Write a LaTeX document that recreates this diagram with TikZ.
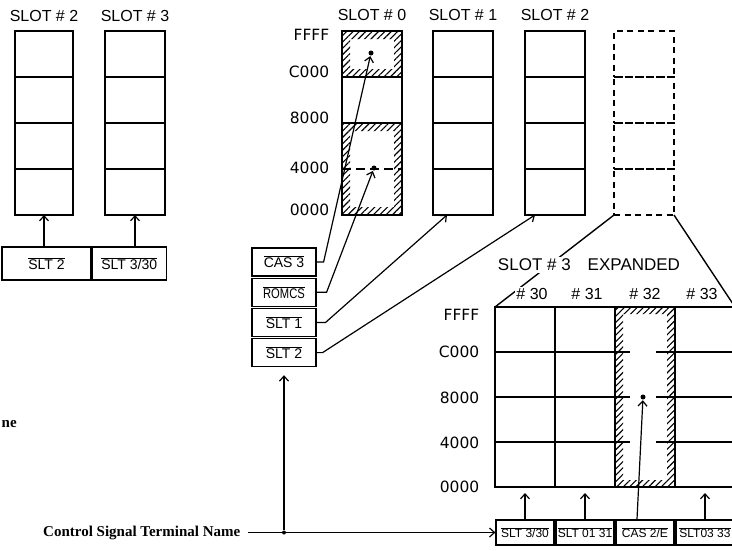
\documentclass[tikz,border=0pt]{standalone}
\usepackage{fontspec}
\setmainfont{Liberation Sans}
\newfontfamily\addrfont{DejaVu Sans}
\newfontfamily\notefont{Liberation Serif}
\usepackage{tikz}
\usetikzlibrary{arrows.meta, positioning, calc, patterns.meta}
\newcommand{\ovl}[1]{$\overline{\mbox{#1}}$}

\begin{document}
\begin{tikzpicture}[
    x=1pt, y=-1pt,
    >={Straight Barb[length=5pt, width=9pt]},
    line width=1.4pt,
    cell/.style={draw, minimum width=60pt, minimum height=46pt, inner sep=0pt, outer sep=0pt},
    dcell/.style={cell, dash pattern=on 6pt off 4.5pt},
    gcell/.style={cell, minimum height=45pt},
    sig/.style={draw, line width=1.2pt, minimum width=64pt, minimum height=28pt, inner sep=0pt, font=\fontsize{14}{16}\selectfont},
    bsig/.style={draw, line width=1.2pt, minimum width=58pt, minimum height=25pt, inner sep=0pt, font=\fontsize{12}{14}\selectfont},
    slotlbl/.style={font=\fontsize{16}{18}\selectfont, inner sep=1.5pt},
    addr/.style={font=\addrfont\fontsize{15.5}{17}\selectfont, anchor=east, inner sep=0pt},
    note/.style={font=\notefont\bfseries\fontsize{15}{17}\selectfont, inner sep=0pt},
    dot/.style={circle, fill, inner sep=0pt, minimum size=5pt},
    hatch/.style={pattern={Lines[angle=45, distance=4.5pt, line width=1.1pt]}, even odd rule},
    link/.style={->, line width=1.2pt},
]
\useasboundingbox (0,0) rectangle (732,550);
\clip (0,0) rectangle (732,550);

% previous slots (left part)
\foreach \i in {1,...,4} {
  \node[cell, minimum width=58pt] (a2-\i) at (44, 8+46*\i) {};
  \node[cell] (a3-\i) at (135, 8+46*\i) {};
}
\node[slotlbl] (la2) at (44,16) {SLOT \# 2};
\node[slotlbl] (la3) at (135,16) {SLOT \# 3};
\node[sig, minimum width=89pt, minimum height=33pt] (ls2) at (46.5,263.5) {\ovl{SLT 2}};
\node[sig, minimum width=74pt, minimum height=33pt, right=0pt of ls2] (ls3) {\ovl{SLT 3/30}};
\draw[link] (a2-4.south |- ls2.north) -- (a2-4.south);
\draw[link] (a3-4.south |- ls3.north) -- (a3-4.south);

% slot 0 with hatched areas
\node[cell] (s0-1) at (372,54) {};
\node[cell] (s0-2) at (372,100) {};
\node[cell, minimum height=92pt] (s0-lo) at (372,169) {};
\fill[hatch] (s0-1.north west) rectangle (s0-1.south east)
  ($(s0-1.north west)+(8,8)$) rectangle ($(s0-1.south east)+(-8,-8)$);
\fill[hatch] (s0-lo.north west) rectangle (s0-lo.south east)
  ($(s0-lo.north west)+(8,8)$) rectangle ($(s0-lo.south east)+(-8,-8)$);
\draw[dash pattern=on 9pt off 5pt] (s0-lo.west) -- (s0-lo.east);
\node[slotlbl] (l0) at (372,15) {SLOT \# 0};

% slots 1, 2 and dashed slot 3
\foreach \n/\x in {1/463, 2/555} {
  \foreach \i in {1,...,4}
    \node[cell] (s\n-\i) at (\x, 8+46*\i) {};
  \node[slotlbl] (l\n) at (\x,15) {SLOT \# \n};
}
\foreach \i in {1,...,4}
  \node[dcell] (s3-\i) at (644, 8+46*\i) {};

\foreach \t/\y in {FFFF/35, C000/72, 8000/118, 4000/168, 0000/210}
  \node[addr] (ad-\y) at (330,\y) {\t};

% control signals of slots
\node[sig] (cas) at (284,262) {\ovl{CAS 3}};
\node[sig, below=1pt of cas] (romcs) {\ovl{\scalebox{0.8}[1]{ROMCS}}};
\node[sig, below=1pt of romcs] (slt1) {\ovl{SLT 1}};
\node[sig, below=1pt of slt1] (slt2) {\ovl{SLT 2}};

\node[dot] (d0a) at (371,53) {};
\node[dot] (d0b) at (374,168) {};
\draw[link] (cas.east) -- ++(7,0) -- (d0a);
\draw[link] (romcs.east) -- ++(10,0) -- (d0b);
\draw[link] (slt1.east) -- ++(9,0) -- ([xshift=-16pt]s1-4.south);
\draw[link] (slt2.east) -- ++(6,0) -- ([xshift=-20pt]s2-4.south);

% expanded slot 3
\foreach \c/\x in {0/525, 1/585, 3/705}
  \foreach \i in {1,...,4}
    \node[gcell] (e\c-\i) at (\x, 284.5+45*\i) {};
\node[cell, minimum height=180pt] (e2) at (645,397) {};
\fill[hatch] (e2.north west) rectangle (e2.south east)
  ($(e2.north west)+(8,7)$) rectangle ($(e2.south east)+(-8,-7)$);
\draw (e2.north west) rectangle (e2.south east);
\foreach \i in {1,2,3} {
  \draw (e1-\i.south east) -- ++(15,0);
  \draw (e3-\i.south west) -- ++(-19,0);
}
\draw (s3-4.south west) -- (e0-1.north west);
\draw (s3-4.south east) -- (e3-1.north east);
\node[slotlbl, fill=white, font=\fontsize{17}{19}\selectfont] (exp) at (589,265) {SLOT \# 3\quad EXPANDED};
\foreach \c/\x in {0/532, 1/587, 2/645, 3/702}
  \node[slotlbl, fill=white] (c3\c) at (\x,294) {\# 3\c};

\foreach \t/\y in {FFFF/315, C000/352, 8000/398, 4000/443, 0000/487}
  \node[addr] (ae-\y) at (480,\y) {\t};

\node[bsig] (b30) at (525,532.5) {\ovl{SLT 3/30}};
\node[bsig] (b31) at (585,532.5) {\ovl{SLT 01 31}};
\node[bsig] (b32) at (645,532.5) {\ovl{CAS 2/E}};
\node[bsig] (b33) at (705,532.5) {\ovl{SLT03 33}};
\node[dot] (d32) at (643,397) {};
\draw[link, shorten >=6pt] (b30.north) -- (e0-4.south);
\draw[link, shorten >=6pt] (b31.north) -- (e1-4.south);
\draw[link, shorten >=6pt] (b33.north) -- (e3-4.south);
\draw[link] ([xshift=-8pt]b32.north) -- (d32);

% terminal name
\node[note, anchor=east] (ctl) at (241,532.5) {Control Signal Terminal Name};
\node[note, anchor=west] (nm) at (1,424) {ne};
\node[dot, minimum size=4pt] (cj) at (slt2.south |- ctl.east) {};
\draw[link] ([xshift=7pt]ctl.east) -- (b30.west);
\draw[link, shorten >=8pt] (cj) -- (slt2.south);
\end{tikzpicture}
\end{document}
